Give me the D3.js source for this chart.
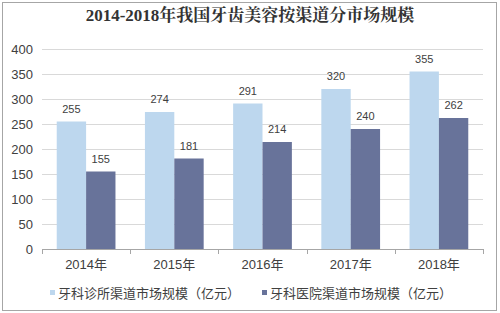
<!DOCTYPE html>
<html lang="zh">
<head>
<meta charset="UTF-8">
<title>2014-2018年我国牙齿美容按渠道分市场规模</title>
<script src="https://cdn.jsdelivr.net/npm/d3@7"></script>
<style>
  body { margin: 0; background: #fff; }
  svg text { font-family: "Liberation Sans", Arial, "Noto Sans CJK SC", sans-serif; fill: #404040; }
  .title { font-family: "Liberation Serif", "Noto Serif CJK SC", "Noto Sans CJK SC", serif; font-weight: bold; }
</style>
</head>
<body>
<svg id="chart" width="500" height="313"></svg>
<script>
// data
var years = ["2014年", "2015年", "2016年", "2017年", "2018年"];
var clinicValues = [255, 274, 291, 320, 355];   // 牙科诊所渠道
var hospitalValues = [155, 181, 214, 240, 262]; // 牙科医院渠道
var seriesNames = ["牙科诊所渠道市场规模（亿元）", "牙科医院渠道市场规模（亿元）"];
var yTicks = [0, 50, 100, 150, 200, 250, 300, 350, 400];

var colors = ["#bdd7ee", "#68739a"];

var svg = d3.select("#chart");

// outer frame
svg.append("rect")
  .attr("x", 2.5).attr("y", 2.5)
  .attr("width", 494).attr("height", 308)
  .attr("fill", "none").attr("stroke", "#a6a6a6").attr("stroke-width", 1);

svg.append("text")
  .attr("class", "title")
  .attr("x", 250).attr("y", 21)
  .attr("text-anchor", "middle")
  .style("font-size", "17px")
  .style("fill", "#333")
  .text("2014-2018年我国牙齿美容按渠道分市场规模");

var plotLeft = 42, plotRight = 483, plotTop = 49, plotBottom = 249;

var x = d3.scaleBand().domain(years).range([plotLeft, plotRight]).paddingInner(0).paddingOuter(0);
var x1 = d3.scaleBand().domain([0, 1]).range([x.bandwidth() * 0.167, x.bandwidth() * 0.833]);
var y = d3.scaleLinear().domain([0, 400]).range([plotBottom, plotTop]);

// gridlines
svg.append("g").selectAll("line")
  .data(yTicks.slice(1))
  .enter().append("line")
  .attr("x1", plotLeft).attr("x2", plotRight)
  .attr("y1", function (d) { return Math.round(y(d)) + 0.5; })
  .attr("y2", function (d) { return Math.round(y(d)) + 0.5; })
  .attr("stroke", "#d9d9d9");

// y labels
svg.append("g").selectAll("text")
  .data(yTicks)
  .enter().append("text")
  .attr("x", 33)
  .attr("y", function (d) { return y(d); })
  .attr("dy", "0.35em")
  .attr("text-anchor", "end")
  .style("font-size", "13px")
  .text(function (d) { return d; });

var rows = years.map(function (yr, i) { return [clinicValues[i], hospitalValues[i]]; });

var groups = svg.append("g").selectAll("g")
  .data(rows)
  .enter().append("g")
  .attr("transform", function (d, i) { return "translate(" + x(years[i]) + ",0)"; });

groups.selectAll("rect")
  .data(function (d) { return d; })
  .enter().append("rect")
  .attr("x", function (d, j) { return x1(j); })
  .attr("width", x1.bandwidth())
  .attr("y", function (d) { return y(d); })
  .attr("height", function (d) { return plotBottom - y(d); })
  .attr("fill", function (d, j) { return colors[j]; });

groups.selectAll("text")
  .data(function (d) { return d; })
  .enter().append("text")
  .attr("x", function (d, j) { return x1(j) + x1.bandwidth() / 2; })
  .attr("y", function (d) { return y(d) - 9; })
  .attr("text-anchor", "middle")
  .style("font-size", "11px")
  .text(function (d) { return d; });

// x axis
var xAxis = svg.append("g");
xAxis.append("line")
  .attr("x1", plotLeft).attr("x2", plotRight)
  .attr("y1", plotBottom + 0.5).attr("y2", plotBottom + 0.5)
  .attr("stroke", "#a6a6a6");
xAxis.selectAll(".tick")
  .data(years.concat(["end"]))
  .enter().append("line")
  .attr("x1", function (d, i) { return Math.round(plotLeft + i * x.bandwidth()) + 0.5; })
  .attr("x2", function (d, i) { return Math.round(plotLeft + i * x.bandwidth()) + 0.5; })
  .attr("y1", plotBottom).attr("y2", plotBottom + 5)
  .attr("stroke", "#a6a6a6");
xAxis.selectAll("text")
  .data(years)
  .enter().append("text")
  .attr("x", function (d) { return x(d) + x.bandwidth() / 2; })
  .attr("y", 269)
  .attr("text-anchor", "middle")
  .style("font-size", "13px")
  .text(function (d) { return d; });

// legend
var legendX = [50, 262];
var legend = svg.append("g").selectAll("g")
  .data(seriesNames)
  .enter().append("g")
  .attr("transform", function (d, i) { return "translate(" + legendX[i] + ",293)"; });
legend.append("rect")
  .attr("x", 0).attr("y", -3).attr("width", 5).attr("height", 5)
  .attr("fill", function (d, i) { return colors[i]; });
legend.append("text")
  .attr("x", 8).attr("y", 0).attr("dy", "0.35em")
  .style("font-size", "13px")
  .text(function (d) { return d; });
</script>
</body>
</html>
